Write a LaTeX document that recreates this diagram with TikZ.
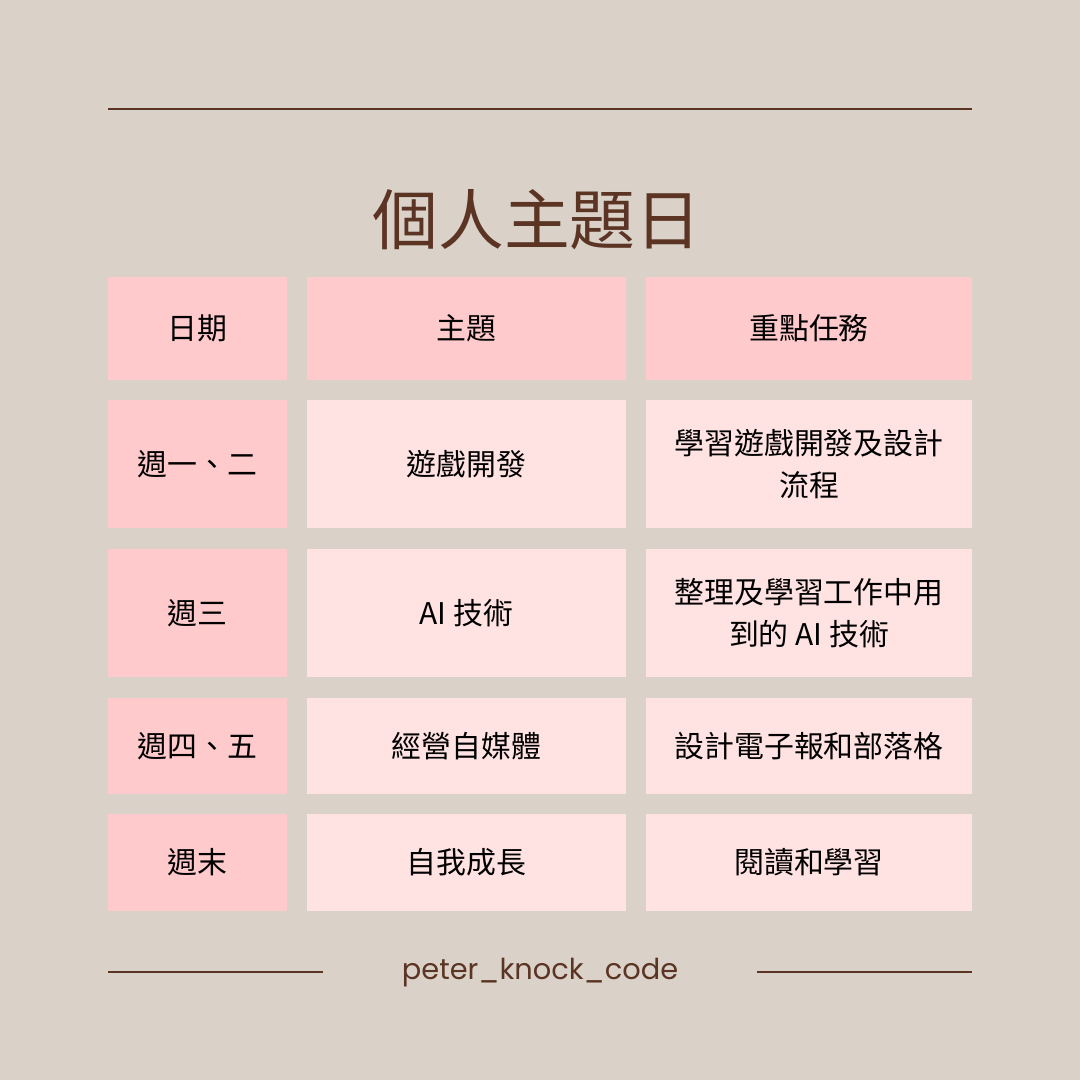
\documentclass[tikz,border=0pt]{standalone}
\usepackage{fontspec}
\newfontfamily\cjk{Noto Sans CJK TC}
\newfontfamily\footfont{Poppins}
\definecolor{bgcol}{HTML}{DAD2C9}
\definecolor{pinkdark}{HTML}{FFCACB}
\definecolor{pinklight}{HTML}{FFE2E2}
\definecolor{brown}{HTML}{5B3424}
\tikzset{
  cell/.style = {rectangle, inner sep=0pt, align=center, text=black,
    font=\cjk\fontsize{8.5}{12}\selectfont},
  cell_d/.style = {cell, fill=pinkdark},% colonne date et entete
  cell_l/.style = {cell, fill=pinklight},% cellules claires
  col_a/.style = {minimum width=1.79cm},
  col_b/.style = {minimum width=3.19cm},
  col_c/.style = {minimum width=3.26cm},
  rule/.style = {draw=brown, line width=0.6pt}
}
\begin{document}
\begin{tikzpicture}[x=0.01cm, y=-0.01cm]
\fill[bgcol] (0,0) rectangle (1080,1080);
\useasboundingbox (0,0) rectangle (1080,1080);
% titre
\coordinate (top_l) at (108,109);
\coordinate (top_r) at (972,109);
\draw[rule] (top_l) -- (top_r);
\node [text=brown, font=\cjk\fontsize{18.7}{22}\selectfont] (title) at (537,220) {個人主題日};
% entete
\node [cell_d, col_a, minimum height=1.03cm] (h_a) at (197.5,328.5) {日期};
\node [cell_d, col_b, minimum height=1.03cm] (h_b) at (466.5,328.5) {主題};
\node [cell_d, col_c, minimum height=1.03cm] (h_c) at (809,328.5) {重點任務};
% lignes
\node [cell_d, col_a, minimum height=1.28cm] (r1_a) at (197.5,464) {週一、二};
\node [cell_l, col_b, minimum height=1.28cm] (r1_b) at (466.5,464) {遊戲開發};
\node [cell_l, col_c, minimum height=1.28cm] (r1_c) at (809,464) {學習遊戲開發及設計\\流程};
\node [cell_d, col_a, minimum height=1.28cm] (r2_a) at (197.5,613) {週三};
\node [cell_l, col_b, minimum height=1.28cm] (r2_b) at (466.5,613) {AI 技術};
\node [cell_l, col_c, minimum height=1.28cm] (r2_c) at (809,613) {整理及學習工作中用\\到的 AI 技術};
\node [cell_d, col_a, minimum height=0.96cm] (r3_a) at (197.5,746) {週四、五};
\node [cell_l, col_b, minimum height=0.96cm] (r3_b) at (466.5,746) {經營自媒體};
\node [cell_l, col_c, minimum height=0.96cm] (r3_c) at (809,746) {設計電子報和部落格};
\node [cell_d, col_a, minimum height=0.97cm] (r4_a) at (197.5,862.5) {週末};
\node [cell_l, col_b, minimum height=0.97cm] (r4_b) at (466.5,862.5) {自我成長};
\node [cell_l, col_c, minimum height=0.97cm] (r4_c) at (809,862.5) {閱讀和學習};
% pied de page
\node [text=brown, font=\footfont\fontsize{8.2}{10}\selectfont] (foot) at (540,973) {peter\_knock\_code};
\coordinate (foot_l1) at (108,972);
\coordinate (foot_l2) at (323,972);
\coordinate (foot_r1) at (757,972);
\coordinate (foot_r2) at (972,972);
\draw[rule] (foot_l1) -- (foot_l2);
\draw[rule] (foot_r1) -- (foot_r2);
\end{tikzpicture}
\end{document}
